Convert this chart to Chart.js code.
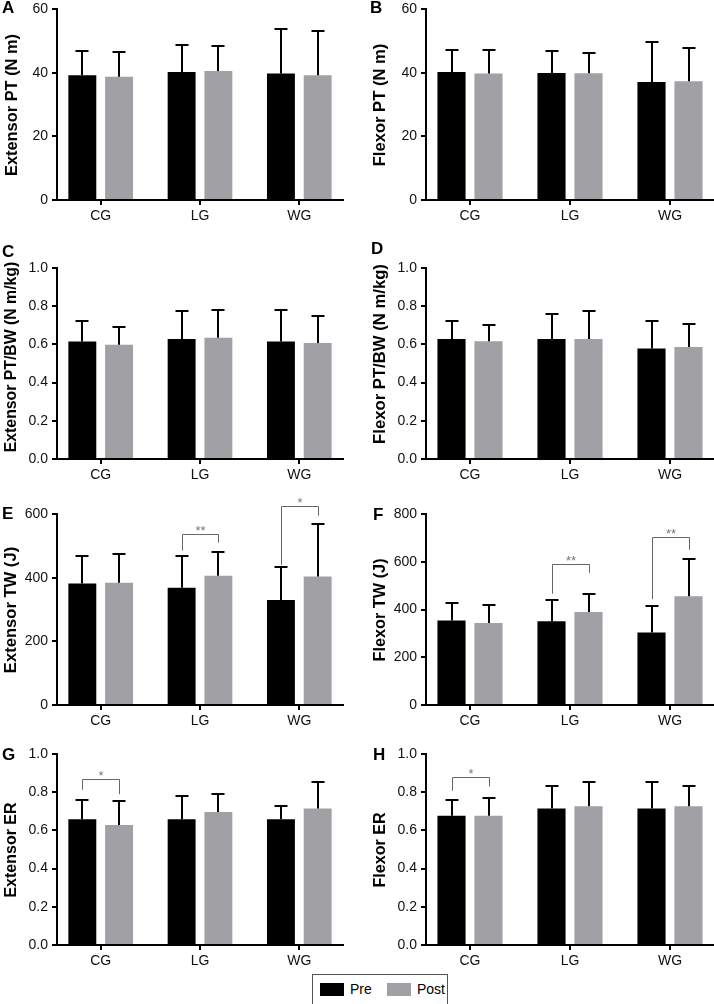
<!DOCTYPE html>
<html>
<head>
<meta charset="utf-8">
<title>Isokinetic results</title>
<script src="https://cdn.jsdelivr.net/npm/chart.js@4.4.1/dist/chart.umd.min.js"></script>
<style>
  body { margin: 0; background: #fff; width: 714px; height: 1004px; overflow: hidden; position: relative;
         font-family: 'Liberation Sans', Arial, sans-serif; color: #000; }
  canvas { position: absolute; }
  .letter { position: absolute; font-weight: bold; font-size: 17px; line-height: 1; }
  .ytitle { position: absolute; font-weight: bold; white-space: nowrap; line-height: 1.1;
            transform: translate(-50%, -50%) rotate(-90deg); }
  #legend { position: absolute; left: 312px; top: 974px; width: 134px; height: 29px; border: 1px solid #555; font-size: 14px; }
  #legend .sw { position: absolute; top: 8px; width: 24px; height: 13px; }
  #legend .lb { position: absolute; top: 6px; line-height: 16px; }
</style>
</head>
<body>
<div id="legend">
  <span class="sw" style="left:7px;background:#000"></span><span class="lb" style="left:37px">Pre</span>
  <span class="sw" style="left:74px;background:#a1a1a5"></span><span class="lb" style="left:104px">Post</span>
</div>
<script>
// groups on the x axis
const groups = ['CG', 'LG', 'WG'];

// A - extensor peak torque (N m)
const extPTPre = [39.2, 40.2, 39.7];
const extPTPreSD = [7.6, 8.4, 14.0];
const extPTPost = [38.7, 40.5, 39.2];
const extPTPostSD = [7.8, 7.8, 13.9];

// B - flexor peak torque (N m)
const flxPTPre = [40.2, 39.9, 37.1];
const flxPTPreSD = [6.9, 6.8, 12.4];
const flxPTPost = [39.7, 39.8, 37.3];
const flxPTPostSD = [7.5, 6.4, 10.4];

// C - extensor PT / body weight
const extBWPre = [0.615, 0.628, 0.615];
const extBWPreSD = [0.105, 0.145, 0.165];
const extBWPost = [0.598, 0.635, 0.607];
const extBWPostSD = [0.093, 0.147, 0.142];

// D - flexor PT / body weight
const flxBWPre = [0.628, 0.628, 0.578];
const flxBWPreSD = [0.094, 0.133, 0.144];
const flxBWPost = [0.616, 0.628, 0.586];
const flxBWPostSD = [0.084, 0.145, 0.123];

// E - extensor total work (J)
const extTWPre = [382, 368, 330];
const extTWPreSD = [85, 101, 105];
const extTWPost = [384, 406, 404];
const extTWPostSD = [89, 74, 166];

// F - flexor total work (J)
const flxTWPre = [354, 351, 304];
const flxTWPreSD = [75, 90, 110];
const flxTWPost = [343, 390, 455];
const flxTWPostSD = [75, 76, 156];

// G - extensor endurance ratio
const extERPre = [0.659, 0.659, 0.659];
const extERPreSD = [0.101, 0.122, 0.070];
const extERPost = [0.628, 0.696, 0.715];
const extERPostSD = [0.124, 0.094, 0.136];

// H - flexor endurance ratio
const flxERPre = [0.677, 0.715, 0.715];
const flxERPreSD = [0.083, 0.115, 0.136];
const flxERPost = [0.677, 0.726, 0.726];
const flxERPostSD = [0.092, 0.125, 0.104];

// significance brackets: group, bracket top, left leg end, right leg end (axis units)
const sigE = [
  { group: 1, top: 538, left: 485, right: 510, label: '**' },
  { group: 2, top: 624, left: 440, right: 595, label: '*' }
];
const sigF = [
  { group: 1, top: 590, left: 466, right: 554, label: '**' },
  { group: 2, top: 702, left: 443, right: 650, label: '**' }
];
const sigG = [{ group: 0, top: 0.869, left: 0.813, right: 0.79, label: '*' }];
const sigH = [{ group: 0, top: 0.877, left: 0.807, right: 0.83, label: '*' }];

// page layout
const colLeft = [0, 357];
const yAxisW = [57, 69];
const padRight = [14, 0];
const rowTop = [9, 268, 514, 754];
const plotH = 191;
const padTop = 26;
const xAxisH = 30;
const titleX = [11, 22.5];

const panels = [
  { letter: 'A', lx: 2, ly: -1, title: 'Extensor PT (N m)', size: 16.4, pre: extPTPre, preSD: extPTPreSD, post: extPTPost, postSD: extPTPostSD, max: 60, step: 20, dec: 0, sig: [] },
  { letter: 'B', lx: 370, ly: -1, title: 'Flexor PT (N m)', size: 16.6, pre: flxPTPre, preSD: flxPTPreSD, post: flxPTPost, postSD: flxPTPostSD, max: 60, step: 20, dec: 0, sig: [] },
  { letter: 'C', lx: 2, ly: 243, title: 'Extensor PT/BW (N m/kg)', size: 15.8, shift: -7, pre: extBWPre, preSD: extBWPreSD, post: extBWPost, postSD: extBWPostSD, max: 1, step: 0.2, dec: 1, sig: [] },
  { letter: 'D', lx: 371, ly: 240, title: 'Flexor PT/BW (N m/kg)', size: 16.7, shift: -10, pre: flxBWPre, preSD: flxBWPreSD, post: flxBWPost, postSD: flxBWPostSD, max: 1, step: 0.2, dec: 1, sig: [] },
  { letter: 'E', lx: 2, ly: 505, title: 'Extensor TW (J)', size: 16.6, pre: extTWPre, preSD: extTWPreSD, post: extTWPost, postSD: extTWPostSD, max: 600, step: 200, dec: 0, sig: sigE },
  { letter: 'F', lx: 373, ly: 506, title: 'Flexor TW (J)', size: 16.3, pre: flxTWPre, preSD: flxTWPreSD, post: flxTWPost, postSD: flxTWPostSD, max: 800, step: 200, dec: 0, sig: sigF },
  { letter: 'G', lx: 2, ly: 746, title: 'Extensor ER', size: 16, pre: extERPre, preSD: extERPreSD, post: extERPost, postSD: extERPostSD, max: 1, step: 0.2, dec: 1, sig: sigG },
  { letter: 'H', lx: 373, ly: 746, title: 'Flexor ER', size: 16.1, pre: flxERPre, preSD: flxERPreSD, post: flxERPost, postSD: flxERPostSD, max: 1, step: 0.2, dec: 1, sig: sigH }
];

Chart.defaults.font.family = "'Liberation Sans', Arial, sans-serif";
Chart.defaults.color = '#111';

// upper-only error bars with a cap
const errorBars = {
  id: 'errorBars',
  afterDatasetsDraw(chart) {
    const ctx = chart.ctx;
    const y = chart.scales.y;
    ctx.save();
    ctx.strokeStyle = '#000';
    ctx.lineWidth = 2;
    chart.data.datasets.forEach((ds, d) => {
      chart.getDatasetMeta(d).data.forEach((bar, i) => {
        const x = Math.round(bar.x);
        const top = Math.round(y.getPixelForValue(ds.data[i].y + ds.sd[i]));
        ctx.beginPath();
        ctx.moveTo(x, bar.y);
        ctx.lineTo(x, top);
        ctx.moveTo(x - 6.5, top);
        ctx.lineTo(x + 6.5, top);
        ctx.stroke();
      });
    });
    ctx.restore();
  }
};

function sigPlugin(marks) {
  return {
    id: 'sig',
    afterDraw(chart) {
      const ctx = chart.ctx;
      const y = chart.scales.y;
      const pre = chart.getDatasetMeta(0).data;
      const post = chart.getDatasetMeta(1).data;
      ctx.save();
      ctx.strokeStyle = '#666';
      ctx.fillStyle = '#777';
      ctx.lineWidth = 1;
      ctx.font = "13px 'Liberation Sans', Arial, sans-serif";
      ctx.textAlign = 'center';
      ctx.textBaseline = 'alphabetic';
      marks.forEach(m => {
        const x0 = Math.round(pre[m.group].x) + 0.5;
        const x1 = Math.round(post[m.group].x) + 0.5;
        const yt = Math.round(y.getPixelForValue(m.top)) + 0.5;
        ctx.beginPath();
        ctx.moveTo(x0, y.getPixelForValue(m.left));
        ctx.lineTo(x0, yt);
        ctx.lineTo(x1, yt);
        ctx.lineTo(x1, y.getPixelForValue(m.right));
        ctx.stroke();
        ctx.fillText(m.label, (x0 + x1) / 2, yt);
      });
      ctx.restore();
    }
  };
}

panels.forEach((p, n) => {
  const col = n % 2;
  const row = Math.floor(n / 2);

  const canvas = document.createElement('canvas');
  canvas.width = 357;
  canvas.height = padTop + plotH + xAxisH;
  canvas.style.left = colLeft[col] + 'px';
  canvas.style.top = (rowTop[row] - padTop) + 'px';
  document.body.appendChild(canvas);

  const letter = document.createElement('div');
  letter.className = 'letter';
  letter.textContent = p.letter;
  letter.style.left = p.lx + 'px';
  letter.style.top = p.ly + 'px';
  document.body.appendChild(letter);

  const title = document.createElement('div');
  title.className = 'ytitle';
  title.textContent = p.title;
  title.style.fontSize = p.size + 'px';
  title.style.left = (colLeft[col] + titleX[col]) + 'px';
  title.style.top = (rowTop[row] + plotH / 2 + (p.shift || 0)) + 'px';
  document.body.appendChild(title);

  new Chart(canvas, {
    type: 'bar',
    data: {
      datasets: [
        { label: 'Pre', data: p.pre.map((v, i) => ({ x: i, y: v })), sd: p.preSD, backgroundColor: '#000' },
        { label: 'Post', data: p.post.map((v, i) => ({ x: i, y: v })), sd: p.postSD, backgroundColor: '#a1a1a5' }
      ]
    },
    options: {
      responsive: false,
      animation: false,
      devicePixelRatio: 1,
      categoryPercentage: 0.74,
      barPercentage: 0.76,
      layout: { padding: { top: padTop, right: padRight[col], left: 0, bottom: 0 } },
      plugins: { legend: { display: false }, tooltip: { enabled: false } },
      scales: {
        x: {
          type: 'linear',
          offset: false,
          min: -0.44,
          max: 2.44,
          afterBuildTicks: s => { s.ticks = groups.map((g, i) => ({ value: i })); },
          afterFit: s => { s.height = xAxisH; },
          ticks: { callback: v => groups[v], font: { size: 14 }, padding: 3, maxRotation: 0, autoSkip: false },
          grid: { offset: false, drawOnChartArea: false, color: '#000', lineWidth: 2, tickLength: 5 },
          border: { color: '#000', width: 2 }
        },
        y: {
          min: 0,
          max: p.max,
          afterFit: s => { s.width = yAxisW[col]; },
          ticks: { stepSize: p.step, callback: v => v.toFixed(p.dec), font: { size: 14 }, padding: 4 },
          grid: { drawOnChartArea: false, color: '#000', lineWidth: 2, tickLength: 5 },
          border: { color: '#000', width: 2 }
        }
      }
    },
    plugins: [errorBars, sigPlugin(p.sig)]
  });
});
</script>
</body>
</html>
